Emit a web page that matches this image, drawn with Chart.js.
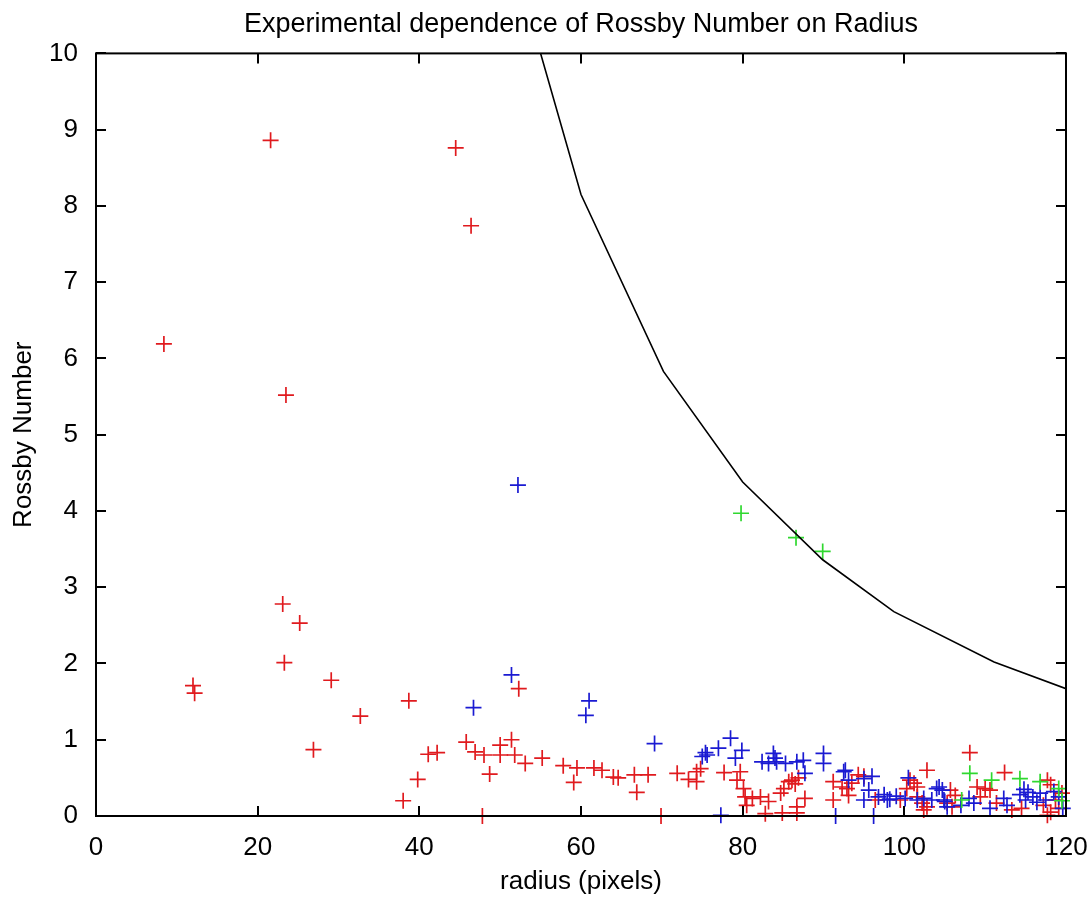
<!DOCTYPE html>
<html>
<head>
<meta charset="utf-8">
<script src="https://cdn.jsdelivr.net/npm/chart.js@4/dist/chart.umd.min.js"></script>
<style>
html,body{margin:0;padding:0;background:#fff;}
#wrap{width:1088px;height:897px;position:relative;}
</style>
</head>
<body>
<div id="wrap"><canvas id="c" width="1088" height="897"></canvas></div>
<script>
const chartTitle = "Experimental dependence of Rossby Number on Radius";
const xLabel = "radius (pixels)";
const yLabel = "Rossby Number";
const xTicks = [0, 20, 40, 60, 80, 100, 120];
const yTicks = [0, 1, 2, 3, 4, 5, 6, 7, 8, 9, 10];

const redX = [21.6,44.5,46.4,8.4,23.5,23.1,25.2,12.0,12.2,23.3,29.1,32.7,26.9,38.7,38.0,39.8,41.1,42.2,52.3,
  45.8,46.9,48.0,50.0,50.0,51.4,51.8,53.1,55.2,48.7,47.8,57.8,59.5,59.1,61.6,
  62.6,64.0,64.6,66.6,68.3,66.9,69.9,71.9,73.3,74.3,74.3,74.8,77.7,
  79.7,79.3,80.1,80.3,81.2,80.5,82.2,83.2,82.8,85.1,85.7,86.1,84.7,84.9,
  86.5,86.9,86.7,86.7,87.7,91.2,91.2,92.3,92.9,93.5,94.3,95.0,93.1,96.4,99.5,100.3,100.7,101.2,101.6,102.8,101.6,102.2,102.4,102.8,
  108.1,112.4,117.7,109.0,110.0,110.6,109.4,105.7,106.3,105.3,105.9,111.4,113.3,117.2,118.1,118.7,119.1,117.7,118.1,114.5,119.5];
const redY = [8.86,8.76,7.74,6.19,5.52,2.78,2.53,1.71,1.61,2.01,1.78,1.31,0.87,1.51,0.20,0.48,0.81,0.83,1.67,
  0.97,0.84,0.80,0.80,0.93,1.00,0.80,0.69,0.76,0.55,0.00,0.66,0.63,0.44,0.63,
  0.60,0.51,0.50,0.54,0.54,0.31,0.00,0.56,0.48,0.45,0.58,0.62,0.57,
  0.58,0.47,0.36,0.25,0.23,0.14,0.25,0.19,0.03,0.36,0.45,0.47,0.30,0.04,
  0.42,0.50,0.12,0.04,0.23,0.21,0.45,0.38,0.36,0.43,0.54,0.52,0.27,0.21,0.21,0.36,0.47,0.43,0.38,0.60,0.25,0.17,0.08,0.12,
  0.83,0.57,0.47,0.38,0.36,0.34,0.25,0.34,0.27,0.17,0.12,0.17,0.08,0.14,0.05,0.21,0.10,0.01,0.41,0.10,0.30];

const blueX = [52.2,46.7,51.4,61.0,60.6,69.1,75.4,75.0,75.6,77.0,78.5,79.9,79.1,77.3,82.4,83.2,83.8,84.0,84.2,85.3,86.7,87.5,87.7,
  90.0,90.0,91.5,92.5,92.7,93.1,95.0,96.0,95.6,95.0,96.2,96.8,97.5,98.2,99.0,97.9,100.1,100.5,101.6,102.4,103.4,104.0,104.3,104.9,105.3,
  104.7,105.0,107.0,108.0,108.6,110.6,112.3,112.7,114.3,115.3,115.9,116.8,117.5,115.0,116.4,119.1,119.6,118.5,114.8];
const blueY = [4.34,1.42,1.85,1.51,1.32,0.95,0.83,0.78,0.80,0.89,1.02,0.86,0.76,0.01,0.71,0.69,0.82,0.76,0.71,0.69,0.71,0.73,0.56,
  0.82,0.69,0.00,0.58,0.60,0.47,0.49,0.52,0.34,0.21,0.00,0.25,0.28,0.22,0.26,0.21,0.23,0.50,0.21,0.23,0.21,0.36,0.38,0.21,0.12,
  0.34,0.19,0.14,0.23,0.17,0.10,0.23,0.14,0.28,0.31,0.25,0.30,0.21,0.21,0.18,0.25,0.10,0.32,0.35];

const greenX = [79.8,86.6,89.9,108.1,110.8,114.3,116.8,119.1,107.1,119.5];
const greenY = [3.97,3.65,3.47,0.56,0.47,0.49,0.45,0.36,0.21,0.20];

const curveX = [50,60,70.2,80,89.9,98.7,111.1,120];
const curveY = [11.85,8.15,5.83,4.38,3.36,2.68,2.02,1.67];

function pts(xs, ys){ return xs.map((x,i)=>({x:x, y:ys[i]})); }

const FONT = "'Liberation Sans', Arial, Helvetica, sans-serif";

const framePlugin = {
  id: 'frame',
  afterDatasetsDraw(chart){
    const {ctx, chartArea:a, scales} = chart;
    ctx.save();
    ctx.strokeStyle = '#000';
    ctx.lineWidth = 2;
    ctx.strokeRect(a.left, a.top, a.right - a.left, a.bottom - a.top);
    const L = 10;
    ctx.beginPath();
    xTicks.forEach(v=>{
      const px = Math.round(scales.x.getPixelForValue(v));
      ctx.moveTo(px, a.bottom); ctx.lineTo(px, a.bottom - L);
      ctx.moveTo(px, a.top); ctx.lineTo(px, a.top + L);
    });
    yTicks.forEach(v=>{
      const py = Math.round(scales.y.getPixelForValue(v));
      ctx.moveTo(a.left, py); ctx.lineTo(a.left + L, py);
      ctx.moveTo(a.right, py); ctx.lineTo(a.right - L, py);
    });
    ctx.stroke();
    ctx.restore();
  }
};

const markerCommon = {pointStyle:'cross', pointRadius:8, pointHoverRadius:8, borderWidth:1.7, showLine:false, clip:10};

new Chart(document.getElementById('c'), {
  type: 'scatter',
  data: {
    datasets: [
      {label:'curve', type:'line', data: pts(curveX, curveY), borderColor:'#000', borderWidth:1.6, pointRadius:0, fill:false, tension:0, clip:0, order:0},
      Object.assign({label:'green', data: pts(greenX, greenY), borderColor:'#2fd82f', backgroundColor:'#2fd82f', order:1}, markerCommon),
      Object.assign({label:'blue', data: pts(blueX, blueY), borderColor:'#1a1ad2', backgroundColor:'#1a1ad2', order:2}, markerCommon),
      Object.assign({label:'red', data: pts(redX, redY), borderColor:'#e01a1e', backgroundColor:'#e01a1e', order:3}, markerCommon)
    ]
  },
  options: {
    responsive:false,
    animation:false,
    layout:{padding:{left:0, right:0, top:0, bottom:0}},
    plugins:{
      legend:{display:false},
      tooltip:{enabled:false},
      title:{display:true, fullSize:false, text:chartTitle, color:'#000', font:{family:FONT, size:27, weight:'normal'}, padding:{top:8, bottom:13}}
    },
    scales:{
      x:{
        type:'linear', min:0, max:120,
        afterBuildTicks(s){ s.ticks = xTicks.map(v=>({value:v})); },
        afterFit(s){ s.height = 81; s.paddingRight = 22; s.paddingLeft = 0; },
        grid:{display:false}, border:{display:false},
        ticks:{color:'#000', font:{family:FONT, size:26}, padding:8, maxRotation:0},
        title:{display:true, text:xLabel, color:'#000', font:{family:FONT, size:26}, padding:{top:4, bottom:0}}
      },
      y:{
        type:'linear', min:0, max:10,
        afterBuildTicks(s){ s.ticks = yTicks.map(v=>({value:v})); },
        afterFit(s){ s.width = 96; },
        grid:{display:false}, border:{display:false},
        ticks:{color:'#000', font:{family:FONT, size:26}, padding:10},
        title:{display:true, text:yLabel, color:'#000', font:{family:FONT, size:26}, padding:{top:8, bottom:4}}
      }
    }
  },
  plugins:[framePlugin]
});
</script>
</body>
</html>
